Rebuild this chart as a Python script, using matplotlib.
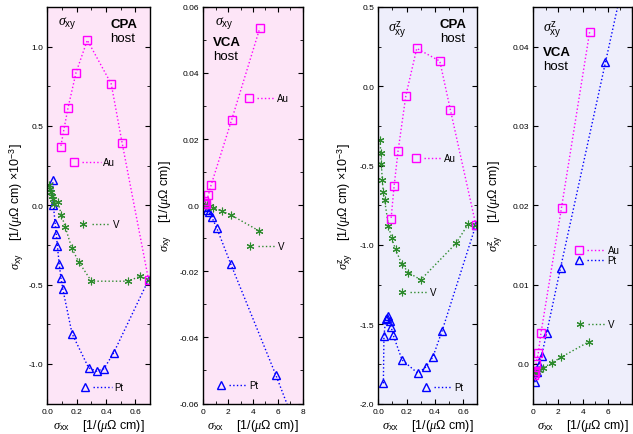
import matplotlib
matplotlib.use('Agg')
import matplotlib.pyplot as plt
import matplotlib.ticker as ticker

plt.rcParams['font.family'] = ['Liberation Sans', 'DejaVu Sans']
plt.rcParams['mathtext.fontset'] = 'custom'
plt.rcParams['mathtext.rm'] = 'Liberation Sans'
plt.rcParams['mathtext.it'] = 'Liberation Serif:italic'
plt.rcParams['axes.unicode_minus'] = False

# --- hôte CPA : sigma_xx commun aux deux panneaux CPA ---
cpa_au_sxx = [0.69, 0.51, 0.435, 0.272, 0.195, 0.14, 0.112, 0.09]
cpa_au_sxy = [-0.47, 0.39, 0.765, 1.04, 0.836, 0.612, 0.476, 0.365]
cpa_au_sxyz = [-0.875, -0.15, 0.158, 0.238, -0.059, -0.408, -0.629, -0.84]

cpa_pt_sxx = [0.69, 0.452, 0.386, 0.335, 0.281, 0.168, 0.105, 0.092, 0.08,
              0.068, 0.06, 0.052, 0.04, 0.036]
cpa_pt_sxy = [-0.47, -0.93, -1.03, -1.046, -1.025, -0.81, -0.53, -0.46, -0.37,
              -0.26, -0.18, -0.11, 0.0, 0.16]
cpa_pt_sxyz = [-0.875, -1.54, -1.707, -1.77, -1.81, -1.725, -1.567, -1.52, -1.48,
               -1.45, -1.46, -1.47, -1.576, -1.873]

cpa_v_sxx = [0.69, 0.635, 0.55, 0.30, 0.213, 0.165, 0.122, 0.094, 0.072,
             0.045, 0.036, 0.028, 0.022, 0.017, 0.013]
cpa_v_sxy = [-0.47, -0.447, -0.479, -0.479, -0.357, -0.268, -0.139, -0.06, 0.02,
             0.01, 0.04, 0.06, 0.08, 0.10, 0.13]
cpa_v_sxyz = [-0.875, -0.87, -0.99, -1.22, -1.175, -1.118, -1.028, -0.956, -0.88,
              -0.72, -0.67, -0.59, -0.49, -0.42, -0.34]

# --- hôte VCA ---
vca_au_sxx = [0.06, 0.1, 0.15, 0.22, 0.40, 0.62, 2.28, 4.55]
vca_au_sxy = [0.0012, 0.0008, 0.0003, 0.0005, 0.003, 0.006, 0.0258, 0.0536]
vca_au_sxyz = [-0.0014, -0.0012, -0.0009, 0.0, 0.00135, 0.0039, 0.0197, 0.0418]

vca_pt_sxx = [0.14, 0.27, 0.45, 0.67, 1.08, 2.2, 5.83, 7.8]
vca_pt_sxy = [-0.0005, -0.0015, -0.0022, -0.0035, -0.0069, -0.0177, -0.0513, -0.0705]
vca_pt_sxyz = [-0.0023, -0.00105, -0.0002, 0.00105, 0.0039, 0.0121, 0.038, 0.052]

vca_v_sxx = [0.1, 0.3, 0.5, 0.8, 1.5, 2.25, 4.5]
vca_v_sxy = [0.0, 0.0, -0.0003, -0.0008, -0.0018, -0.003, -0.0078]
vca_v_sxyz = [-0.0012, -0.001, -0.0008, -0.0005, 0.00013, 0.00084, 0.0028]

# styles
st_au = dict(color='#ff00ff', marker='s', mfc='none', ms=6, mew=1.0)
st_pt = dict(color='#0000ff', marker='^', mfc='none', ms=6, mew=1.0)
st_v = dict(color='#2e8b2e', marker=(6, 2, 0), ms=5.5, mew=0.8)

rose = '#fde5f7'
lavande = '#eeeefb'


def tracer(ax, x, y, st):
    ax.plot(x, y, ls=':', lw=1.0, clip_on=True, **st)


def cle(ax, x, y, nom, st):
    # pseudo-légende : symbole, pointillé, texte
    ax.plot([x], [y], ls='none', transform=ax.transAxes, clip_on=False, **st)
    ax.plot([x + 0.08, x + 0.26], [y, y], ls=':', lw=1.0, color=st['color'],
            transform=ax.transAxes)
    ax.text(x + 0.285, y, nom, transform=ax.transAxes, va='center', fontsize=7)


def fmt_zero(v, _):
    if abs(v) < 1e-12:
        return '0.0'
    return '%g' % v


def habiller(ax, xlim, ylim, xmaj, xmin, ymaj, ymin, yfmt, fond):
    ax.set_facecolor(fond)
    ax.set_xlim(xlim)
    ax.set_ylim(ylim)
    ax.xaxis.set_major_locator(ticker.MultipleLocator(xmaj))
    ax.xaxis.set_minor_locator(ticker.MultipleLocator(xmin))
    ax.yaxis.set_major_locator(ticker.MultipleLocator(ymaj))
    ax.yaxis.set_minor_locator(ticker.MultipleLocator(ymin))
    ax.yaxis.set_major_formatter(yfmt)
    ax.tick_params(which='both', direction='in', top=True, right=True,
                   labelsize=6, pad=3)
    ax.tick_params(which='major', length=3.5, width=0.8)
    ax.tick_params(which='minor', length=2, width=0.6)
    for s in ax.spines.values():
        s.set_linewidth(1.0)
    ax.set_xlabel(r'$\sigma_{\rm xx}$    [1/($\mu\Omega$ cm)]', fontsize=9)
    ax.xaxis.set_label_coords(0.5, -0.035)


fig = plt.figure(figsize=(6.33, 4.35), dpi=100)
bas, haut = 0.070, 0.912
ax1 = fig.add_axes([0.075, bas, 0.162, haut])
ax2 = fig.add_axes([0.3212, bas, 0.157, haut])
ax3 = fig.add_axes([0.5976, bas, 0.1564, haut])
ax4 = fig.add_axes([0.8425, bas, 0.1564, haut])

f1 = ticker.FormatStrFormatter('%.1f')
habiller(ax1, (0, 0.7), (-1.25, 1.25), 0.2, 0.1, 0.5, 0.25, f1, rose)
habiller(ax2, (0, 8), (-0.06, 0.06), 2, 1, 0.02, 0.01,
         ticker.FuncFormatter(fmt_zero), rose)
habiller(ax3, (0, 0.7), (-2.0, 0.5), 0.2, 0.1, 0.5, 0.25, f1, lavande)
habiller(ax4, (0, 8), (-0.005, 0.045), 2, 1, 0.01, 0.005,
         ticker.FuncFormatter(fmt_zero), lavande)
ax4.set_xticks([0, 2, 4, 6, 8])
ax4.set_xticklabels(['0', '2', '4', '6', ''])

# courbes
tracer(ax1, cpa_pt_sxx, cpa_pt_sxy, st_pt)
tracer(ax1, cpa_v_sxx, cpa_v_sxy, st_v)
tracer(ax1, cpa_au_sxx, cpa_au_sxy, st_au)

tracer(ax2, vca_pt_sxx, vca_pt_sxy, st_pt)
tracer(ax2, vca_v_sxx, vca_v_sxy, st_v)
tracer(ax2, vca_au_sxx, vca_au_sxy, st_au)

tracer(ax3, cpa_pt_sxx, cpa_pt_sxyz, st_pt)
tracer(ax3, cpa_v_sxx, cpa_v_sxyz, st_v)
tracer(ax3, cpa_au_sxx, cpa_au_sxyz, st_au)

tracer(ax4, vca_pt_sxx, vca_pt_sxyz, st_pt)
tracer(ax4, vca_v_sxx, vca_v_sxyz, st_v)
tracer(ax4, vca_au_sxx, vca_au_sxyz, st_au)

# légendes
cle(ax1, 0.26, 0.609, 'Au', st_au)
cle(ax1, 0.35, 0.453, 'V', st_v)
cle(ax1, 0.366, 0.041, 'Pt', st_pt)

cle(ax2, 0.46, 0.77, 'Au', st_au)
cle(ax2, 0.47, 0.396, 'V', st_v)
cle(ax2, 0.18, 0.046, 'Pt', st_pt)

cle(ax3, 0.378, 0.62, 'Au', st_au)
cle(ax3, 0.236, 0.282, 'V', st_v)
cle(ax3, 0.479, 0.042, 'Pt', st_pt)

cle(ax4, 0.465, 0.387, 'Au', st_au)
cle(ax4, 0.46, 0.361, 'Pt', st_pt)
cle(ax4, 0.47, 0.20, 'V', st_v)

# titres internes
sxy = r'$\sigma_{\rm xy}$'
sxyz = r'$\sigma^{\rm z}_{\rm xy}$'
ax1.text(0.10, 0.962, sxy, transform=ax1.transAxes, va='center', fontsize=10)
ax1.text(0.61, 0.957, 'CPA', transform=ax1.transAxes, va='center',
         fontsize=9.5, fontweight='bold')
ax1.text(0.61, 0.922, 'host', transform=ax1.transAxes, va='center', fontsize=9.5)

ax2.text(0.12, 0.962, sxy, transform=ax2.transAxes, va='center', fontsize=10)
ax2.text(0.10, 0.912, 'VCA', transform=ax2.transAxes, va='center',
         fontsize=9.5, fontweight='bold')
ax2.text(0.10, 0.877, 'host', transform=ax2.transAxes, va='center', fontsize=9.5)

ax3.text(0.10, 0.945, sxyz, transform=ax3.transAxes, va='center', fontsize=10)
ax3.text(0.62, 0.957, 'CPA', transform=ax3.transAxes, va='center',
         fontsize=9.5, fontweight='bold')
ax3.text(0.62, 0.922, 'host', transform=ax3.transAxes, va='center', fontsize=9.5)

ax4.text(0.10, 0.945, sxyz, transform=ax4.transAxes, va='center', fontsize=10)
ax4.text(0.10, 0.886, 'VCA', transform=ax4.transAxes, va='center',
         fontsize=9.5, fontweight='bold')
ax4.text(0.10, 0.851, 'host', transform=ax4.transAxes, va='center', fontsize=9.5)

# étiquettes y
unite = r'[1/($\mu\Omega$ cm)'
ax1.set_ylabel(sxy + '    ' + unite + r' $\times 10^{-3}$]', fontsize=9)
ax1.yaxis.set_label_coords(-0.21, 0.5)
ax2.set_ylabel(sxy + '    ' + unite + ']', fontsize=9)
ax2.yaxis.set_label_coords(-0.30, 0.5)
ax3.set_ylabel(sxyz + '    ' + unite + r' $\times 10^{-3}$]', fontsize=9)
ax3.yaxis.set_label_coords(-0.235, 0.5)
ax4.set_ylabel(sxyz + '    ' + unite + ']', fontsize=9)
ax4.yaxis.set_label_coords(-0.286, 0.5)

fig.savefig('out.png', dpi=100)
